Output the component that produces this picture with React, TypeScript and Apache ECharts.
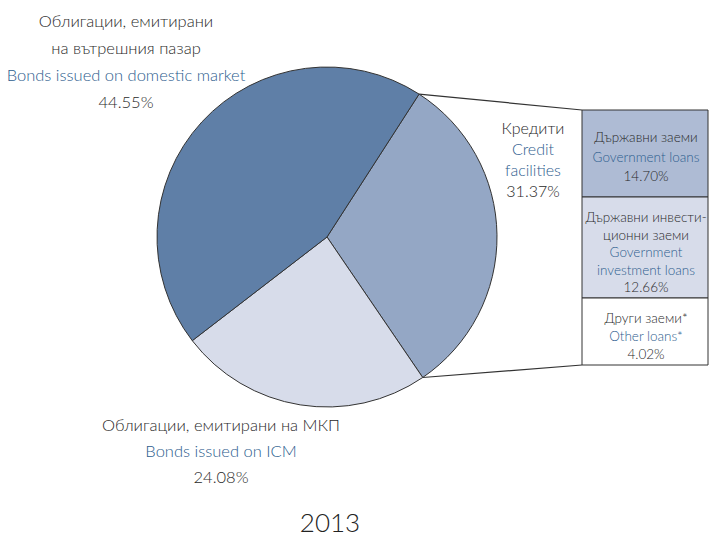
import React, { useEffect, useRef } from "react";
import * as echarts from "echarts";

const sliceNamesBg = ["Кредити", "Облигации, емитирани на МКП", "Облигации, емитирани\nна вътрешния пазар"];
const sliceNamesEn = ["Credit\nfacilities", "Bonds issued on ICM", "Bonds issued on domestic market"];
const sliceValues = [31.37, 24.08, 44.55];
const sliceColors = ["#94a7c5", "#d7dcea", "#5f7fa7"];

const breakdownBg = ["Държавни заеми", "Държавни инвести-\nционни заеми", "Други заеми*"];
const breakdownEn = ["Government loans", "Government\ninvestment loans", "Other loans*"];
const breakdownValues = [14.7, 12.66, 4.02];
const breakdownColors = ["#aebbd4", "#d7dcea", "#ffffff"];

const yearLabel = "2013";

const FONT = "Lato, 'Noto Sans', sans-serif";
const DARK = "#2a2a2a";
const BLUE = "#2d5d8e";

export default function App() {
  const ref = useRef<HTMLDivElement>(null);
  useEffect(() => {
    document.body.style.margin = "0";
    if (!ref.current) return;
    const chart = echarts.init(ref.current, null, { renderer: "svg" });
    const cx = 327, cy = 237, r = 170;
    const startAngle = 57.2;
    const total = sliceValues.reduce((a, b) => a + b, 0);
    const endCredit = startAngle - (360 * sliceValues[0]) / total;
    const pt = (deg: number) => {
      const a = (deg * Math.PI) / 180;
      return [cx + r * Math.cos(a), cy - r * Math.sin(a)];
    };
    const p1 = pt(startAngle);
    const p2 = pt(endCredit);

    const graphics: any[] = [];
    const lineText = (text: string, x: number, y: number, fill: string, size: number) => {
      graphics.push({
        type: "text",
        x,
        y,
        silent: true,
        z: 10,
        style: {
          text,
          fill,
          font: `300 ${size}px ${FONT}`,
          align: "center",
          verticalAlign: "middle",
        },
      });
    };
    const block = (bg: string, en: string, val: number, x: number, y0: number, step: number, size: number) => {
      let y = y0;
      bg.split("\n").forEach((l) => { lineText(l, x, y, DARK, size); y += step; });
      en.split("\n").forEach((l) => { lineText(l, x, y, BLUE, size); y += step; });
      lineText(val.toFixed(2) + "%", x, y, DARK, size);
    };

    // slice labels
    block(sliceNamesBg[2], sliceNamesEn[2], sliceValues[2], 126, 21, 27, 16.5);
    block(sliceNamesBg[0], sliceNamesEn[0], sliceValues[0], 533, 127, 21.3, 16);
    block(sliceNamesBg[1], sliceNamesEn[1], sliceValues[1], 221, 425, 26, 16.5);

    // breakdown boxes
    const bx = 582, bw = 126;
    const boxTops = [110, 197, 298];
    const boxBottoms = [197, 298, 365];
    const boxTextStart = [137, 217, 318];
    const boxSteps = [19.5, 17.5, 18];
    breakdownValues.forEach((v, i) => {
      graphics.push({
        type: "rect",
        silent: true,
        shape: { x: bx, y: boxTops[i], width: bw, height: boxBottoms[i] - boxTops[i] },
        style: { fill: breakdownColors[i], stroke: "#333", lineWidth: 1 },
      });
      block(breakdownBg[i], breakdownEn[i], v, bx + bw / 2 + 1, boxTextStart[i], boxSteps[i], 13.5);
    });

    // connector lines
    graphics.push({
      type: "line",
      silent: true,
      shape: { x1: p1[0], y1: p1[1], x2: bx, y2: boxTops[0] },
      style: { stroke: "#333", lineWidth: 1.2 },
    });
    graphics.push({
      type: "line",
      silent: true,
      shape: { x1: p2[0], y1: p2[1], x2: bx, y2: boxBottoms[2] },
      style: { stroke: "#333", lineWidth: 1.2 },
    });

    // year
    graphics.push({
      type: "text",
      x: 330,
      y: 522,
      silent: true,
      style: { text: yearLabel, fill: "#222", font: `300 26px ${FONT}`, align: "center", verticalAlign: "middle" },
    });

    chart.setOption({
      animation: false,
      backgroundColor: "#ffffff",
      series: [
        {
          type: "pie",
          center: [cx, cy],
          radius: r,
          startAngle,
          clockwise: true,
          silent: true,
          label: { show: false },
          labelLine: { show: false },
          itemStyle: { borderColor: "#333", borderWidth: 1 },
          data: sliceValues.map((v, i) => ({
            value: v,
            name: sliceNamesEn[i].replace("\n", " "),
            itemStyle: { color: sliceColors[i] },
          })),
        },
      ],
      graphic: graphics,
    });
    return () => chart.dispose();
  }, []);
  return <div ref={ref} style={{ width: 713, height: 537 }} />;
}
